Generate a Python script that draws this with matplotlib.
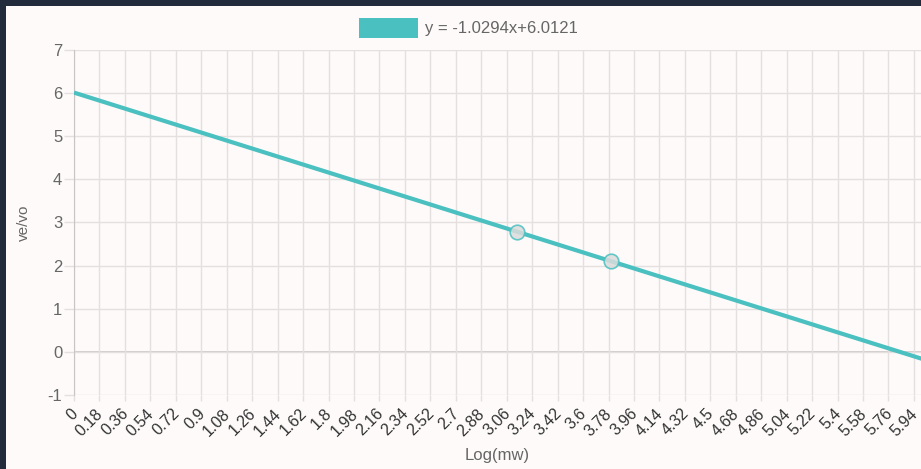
import matplotlib.pyplot as plt
import matplotlib.transforms as mtransforms
from matplotlib.patches import Rectangle

# data
x_labels = ['0', '0.18', '0.36', '0.54', '0.72', '0.9', '1.08', '1.26', '1.44', '1.62',
            '1.8', '1.98', '2.16', '2.34', '2.52', '2.7', '2.88', '3.06', '3.24', '3.42',
            '3.6', '3.78', '3.96', '4.14', '4.32', '4.5', '4.68', '4.86', '5.04', '5.22',
            '5.4', '5.58', '5.76', '5.94']
fit_label = 'y = -1.0294x+6.0121'
line_x = [0, 6.12]
line_y = [6.0121, -0.288]
pts_x = [3.13, 3.80]
pts_y = [2.79, 2.10]
y_ticks = [-1, 0, 1, 2, 3, 4, 5, 6, 7]

teal = '#4bc0c0'
plt.rcParams['font.family'] = ['Liberation Sans', 'DejaVu Sans']

fig = plt.figure(figsize=(9.21, 4.69), dpi=100)
fig.patch.set_facecolor('#fdfaf9')
# dark frame on top and left
fig.patches.append(Rectangle((0, 1 - 6 / 469), 1, 6 / 469, transform=fig.transFigure,
                             facecolor='#222b3c', edgecolor='none'))
fig.patches.append(Rectangle((0, 0), 6 / 921, 1, transform=fig.transFigure,
                             facecolor='#222b3c', edgecolor='none'))

ax = fig.add_axes([74 / 921, 74 / 469, 847 / 921, 345 / 469])
ax.set_facecolor('none')

xt = [float(s) for s in x_labels]
ax.set_xticks(xt)
ax.set_xticklabels([])
# rotated category labels, nudged a bit left of their tick
shift = mtransforms.ScaledTranslation(-4 / 100, -11 / 100, fig.dpi_scale_trans)
for v, s in zip(xt, x_labels):
    ax.text(v, 0, s, transform=ax.get_xaxis_transform() + shift, rotation=45,
            ha='right', va='top', rotation_mode='anchor', fontsize=11.5,
            color='#333333', clip_on=False)
ax.set_yticks(y_ticks)
ax.set_yticklabels([str(v) for v in y_ticks], fontsize=12, color='#666666')
ax.set_xlim(0, 5.99)
ax.set_ylim(-1, 7)

ax.grid(True, color='#e3e0df', linewidth=1)
ax.axhline(0, color='#c8c5c4', linewidth=1.2, zorder=1)
ax.tick_params(axis='y', length=7, color='#e3e0df', width=1, pad=1.5)
ax.tick_params(axis='x', length=4, color='#e3e0df', width=1, pad=5)
for s in ['top', 'right', 'bottom']:
    ax.spines[s].set_visible(False)
ax.spines['left'].set_color('#c8c5c4')

ax.plot(line_x, line_y, color=teal, linewidth=3, zorder=3, solid_capstyle='butt')
ax.scatter(pts_x, pts_y, s=110, facecolor='#dcdcdc', edgecolor=teal, linewidth=1.2,
           alpha=0.85, zorder=4)

fig.text(497 / 921, 1 - 455 / 469, 'Log(mw)', fontsize=12, color='#666666',
         ha='center', va='center')
ax.set_ylabel('ve/vo', fontsize=11, color='#666666', labelpad=12)

fig.patches.append(Rectangle((359 / 921, 1 - 38 / 469), 59 / 921, 20 / 469,
                             transform=fig.transFigure, facecolor=teal, edgecolor='none'))
fig.text(425 / 921, 1 - 28 / 469, fit_label, fontsize=12, color='#666666', va='center')

fig.savefig('out.png', dpi=100, facecolor=fig.get_facecolor())
